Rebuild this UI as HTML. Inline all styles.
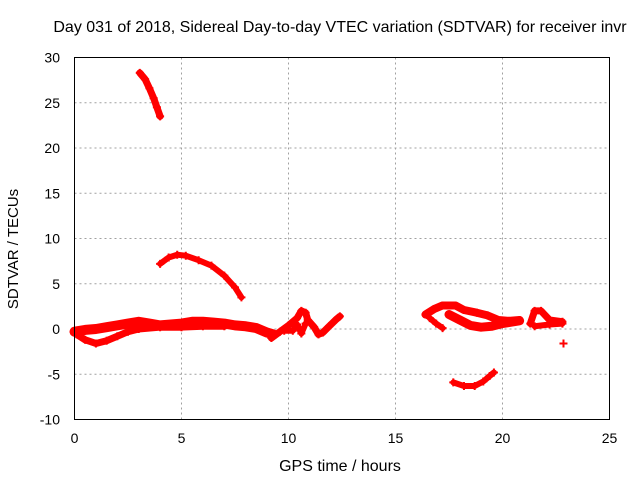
<!DOCTYPE html>
<html><head><meta charset="utf-8"><style>
body{margin:0;background:#fff;}
svg{display:block;font-family:"Liberation Sans",sans-serif;}
</style></head><body>
<svg id="chart" width="640" height="480" xmlns="http://www.w3.org/2000/svg">
<rect width="640" height="480" fill="#fff"/>
<text x="340" y="32" font-size="16" text-anchor="middle" fill="#000">Day 031 of 2018, Sidereal Day-to-day VTEC variation (SDTVAR) for receiver invr</text>
<g id="grid"></g>
<g id="ticks"></g>
<g id="marks"></g>
<rect x="74.5" y="57.5" width="535" height="362" fill="none" stroke="#000" stroke-width="1"/>
<text x="340" y="471" font-size="16" text-anchor="middle">GPS time / hours</text>
<text x="18" y="249" font-size="15" text-anchor="middle" transform="rotate(-90 18 249)">SDTVAR / TECUs</text>
</svg>
<script>
const xTicks=[0,5,10,15,20,25];
const yTicks=[-10,-5,0,5,10,15,20,25,30];
const trackA=[[3.05,28.3],[3.3,27.6],[3.5,26.6],[3.7,25.5],[3.85,24.5],[4.0,23.5]];
const trackB=[[4.0,7.2],[4.4,7.9],[4.8,8.2],[5.2,8.1],[5.8,7.6],[6.4,7.0],[7.0,5.9],[7.5,4.6],[7.8,3.5]];
const trackC=[[0,-0.3],[0.5,-0.1],[1,0],[1.5,0.2],[2,0.4],[2.5,0.6],[3,0.8],[3.5,0.6],[4,0.4],[4.5,0.5],[5,0.6],[5.5,0.8],[6,0.8],[6.5,0.7],[7,0.6],[7.5,0.4],[8,0.3],[8.5,0.1],[9,-0.4],[9.3,-0.6]];
const trackC2=[[0.1,-0.6],[0.5,-1.2],[1,-1.6],[1.5,-1.3],[2,-0.8],[2.5,-0.3],[3,0],[4,0.2],[5,0.2],[6,0.3],[7,0.3]];
const trackD=[[9.2,-1],[9.6,-0.3],[10,0.4],[10.4,1.2],[10.6,2],[10.8,1.8],[10.9,1],[11.2,0.2],[11.4,-0.6],[11.6,-0.4],[11.9,0.3],[12.2,1],[12.4,1.4]];
const trackD2=[[9.8,-0.2],[10.2,-0.2],[10.4,0.5],[10.6,-0.5],[10.8,0.6]];
const trackE=[[16.4,1.6],[16.8,2.2],[17.2,2.6],[17.8,2.6],[18.2,2.1],[18.8,1.8],[19.3,1.5],[19.8,1.0],[20.3,0.9],[20.8,1.0]];
const trackE2=[[16.6,1.2],[16.9,0.6],[17.2,0.1]];
const trackE3=[[17.5,1.6],[18,1.0],[18.5,0.4],[19,0.2],[19.5,0.3],[20,0.6],[20.8,0.9]];
const trackF=[[21.3,0.6],[21.5,2.0],[21.8,2.0],[22.2,1.0],[22.8,0.8]];
const trackF2=[[21.5,0.3],[22.2,0.5],[22.8,0.6]];
const trackG=[[17.7,-5.9],[18.2,-6.3],[18.7,-6.3],[19.1,-5.8],[19.4,-5.2],[19.6,-4.8]];
const isolated=[[22.85,-1.6]];
const tracks=[[trackA,7],[trackB,6],[trackC,10],[trackC2,7],[trackD,7],[trackD2,6],[trackE,8],[trackE2,6],[trackE3,9],[trackF,7],[trackF2,6],[trackG,6],[isolated,1]];

const X=v=>74.5+v*(535/25);
const Y=v=>419.5-(v+10)*(362/40);
const NS="http://www.w3.org/2000/svg";
const grid=document.getElementById('grid'),ticks=document.getElementById('ticks'),marks=document.getElementById('marks');
function mk(t,a,p){const e=document.createElementNS(NS,t);for(const k in a)e.setAttribute(k,a[k]);p.appendChild(e);return e;}
xTicks.forEach(t=>{
  if(t>0&&t<25){const g=mk('line',{x1:X(t),x2:X(t),y1:57.5,y2:419.5,stroke:'#a0a0a0','stroke-dasharray':'2,3'},grid);
  
  }
  const l=mk('text',{x:X(t),y:443,'font-size':14,'text-anchor':'middle'},ticks);l.textContent=t;
  
  
});
yTicks.forEach(t=>{
  if(t>-10&&t<30){const g=mk('line',{x1:74.5,x2:609.5,y1:Y(t),y2:Y(t),stroke:'#a0a0a0','stroke-dasharray':'2,3'},grid);
  
  }
  const l=mk('text',{x:60,y:Y(t)+5,'font-size':14,'text-anchor':'end'},ticks);l.textContent=t;
  
  
});
tracks.forEach(([pts,w])=>{
  if(pts.length>1){
    const pl=mk('polyline',{points:pts.map(p=>X(p[0])+','+Y(p[1])).join(' '),fill:'none',stroke:'#ff0000','stroke-width':w,'stroke-linejoin':'round','stroke-linecap':'round'},marks);
    
    
  }
  pts.forEach(p=>{
    const x=X(p[0]),y=Y(p[1]);
    const m=mk('path',{d:`M${x-4},${y}H${x+4}M${x},${y-4}V${y+4}`,stroke:'#ff0000','stroke-width':2},marks);
    
    
  });
});
</script>
</body></html>
